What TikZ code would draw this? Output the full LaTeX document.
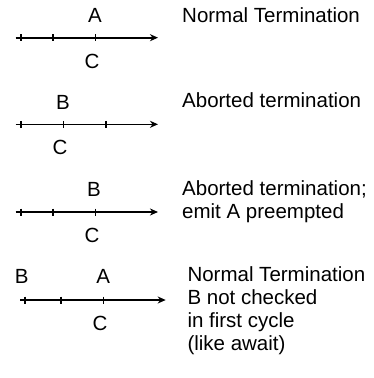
\documentclass[tikz,border=0pt]{standalone}
\usepackage{fontspec}
\setmainfont{Liberation Sans}
\usetikzlibrary{arrows.meta,positioning}

\begin{document}
\begin{tikzpicture}[x=1pt,y=-1pt,
  every node/.style={font=\fontsize{20.5}{23}\selectfont,inner sep=0pt},
  timeline/.style={line width=1.6pt,-{Stealth[length=8pt,width=7pt,inset=2.5pt]}},
  tickmark/.style={line width=1.6pt},
  over/.style={anchor=base},
  note/.style={anchor=base west,align=left}]
  \useasboundingbox (0,0) rectangle (374,378);
  % normal termination
  \coordinate (s1) at (15.7,37.7);
  \coordinate (e1) at (158,37.7);
  \draw[timeline] (s1) -- (e1);
  \foreach \x/\n in {20.7/a,52.7/b,95.3/c}{
    \coordinate (r1\n) at (\x,37.7);
    \draw[tickmark] (r1\n) ++(0,-3.5) -- ++(0,7);
  }
  \node[over] (a1) at (95,22.7) {A};
  \node[over] (c1) at (92,68) {C};
  \node[note] (n1) at (182,22) {Normal Termination};
  % aborted
  \coordinate (s2) at (15.7,124.3);
  \coordinate (e2) at (158,124.3);
  \draw[timeline] (s2) -- (e2);
  \foreach \x/\n in {20.7/a,63.3/b,106/c}{
    \coordinate (r2\n) at (\x,124.3);
    \draw[tickmark] (r2\n) ++(0,-3.5) -- ++(0,7);
  }
  \node[over] (b2) at (63,109) {B};
  \node[over] (c2) at (60,154.5) {C};
  \node[note] (n2) at (182,107) {Aborted termination};
  % aborted, emit preempted
  \coordinate (s3) at (15.7,212);
  \coordinate (e3) at (158,212);
  \draw[timeline] (s3) -- (e3);
  \foreach \x/\n in {20.7/a,52.7/b,95.3/c}{
    \coordinate (r3\n) at (\x,212);
    \draw[tickmark] (r3\n) ++(0,-3.5) -- ++(0,7);
  }
  \node[over] (b3) at (94,196) {B};
  \node[over] (c3) at (92,242.5) {C};
  \node[note] (n3) at (182,218) {Aborted termination;\\emit A preempted};
  % B not checked in first cycle
  \coordinate (s4) at (20,300);
  \coordinate (e4) at (165.7,300);
  \draw[timeline] (s4) -- (e4);
  \foreach \x/\n in {25/a,61/b,103.3/c}{
    \coordinate (r4\n) at (\x,300);
    \draw[tickmark] (r4\n) ++(0,-3.5) -- ++(0,7);
  }
  \node[over] (b4) at (21.7,283) {B};
  \node[over] (a4) at (103.3,283) {A};
  \node[over] (c4) at (100,330) {C};
  \node[note] (n4) at (187.3,350) {Normal Termination\\B not checked\\in first cycle\\(like await)};
\end{tikzpicture}
\end{document}
